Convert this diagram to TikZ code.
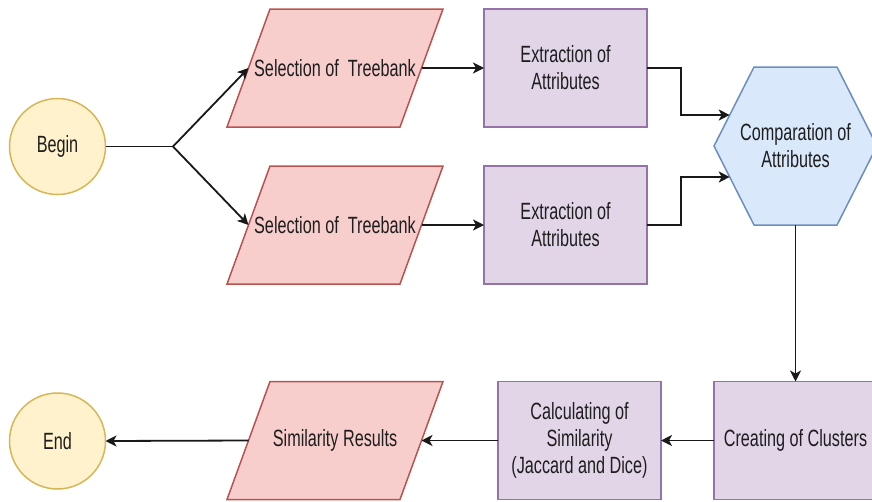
\documentclass[tikz,border=0pt]{standalone}
\usepackage{fontspec}
\setmainfont{Liberation Sans}[FakeStretch=0.69]
\usetikzlibrary{shapes.geometric,arrows.meta,calc}
\definecolor{yfill}{HTML}{FFF2CC}\definecolor{ydraw}{HTML}{D6B656}
\definecolor{rfill}{HTML}{F8CECC}\definecolor{rdraw}{HTML}{B85450}
\definecolor{pfill}{HTML}{E1D5E7}\definecolor{pdraw}{HTML}{9673A6}
\definecolor{bfill}{HTML}{DAE8FC}\definecolor{bdraw}{HTML}{6C8EBF}
\definecolor{txt}{HTML}{1E1E1E}
\tikzset{
  base/.style={font=\fontsize{23.5}{27}\selectfont, text=txt, align=center, line width=1.5pt, outer sep=0pt, inner sep=2pt},
  terminal/.style={base, circle, minimum size=96pt, fill=yfill, draw=ydraw},
  iobox/.style={base, rectangle, minimum width=216pt, minimum height=118pt},
  iofill/.style={fill=rfill, draw=rdraw, line width=1.5pt},
  proc/.style={base, rectangle, minimum width=163pt, minimum height=118pt, fill=pfill, draw=pdraw},
  hexbox/.style={base, rectangle, minimum width=163pt, minimum height=158pt},
  arr/.style={line width=1.8pt, draw=black!90, -{Stealth[length=11pt,width=11pt,inset=3pt]}},
  ln/.style={line width=1.8pt, draw=black!90},
}
\newcommand{\para}[1]{%
  \filldraw[iofill] (#1.south west) -- ($(#1.north west)+(43,0)$) -- (#1.north east) -- ($(#1.south east)+(-43,0)$) -- cycle;}
\begin{document}
\begin{tikzpicture}[x=1pt,y=-1pt]
\useasboundingbox (0,0) rectangle (872,501);
% parallelogram frames
\node[iobox] (sel1) at (335,68) {};
\node[iobox] (sel2) at (335,225) {};
\node[iobox] (res) at (335,440.5) {};
\para{sel1}\para{sel2}\para{res}
\node[base] (sel1t) at (sel1.center) {Selection of\ \ Treebank};
\node[base] (sel2t) at (sel2.center) {Selection of\ \ Treebank};
\node[base] (rest) at (res.center) {Similarity Results};
% other nodes
\node[terminal] (begin) at (57.5,146.5) {Begin};
\node[terminal] (end) at (57.5,441) {End};
\node[proc] (ext1) at (565.5,68) {Extraction of\\Attributes};
\node[proc] (ext2) at (565.5,225) {Extraction of\\Attributes};
\node[hexbox] (comp) at (795.5,146) {};
\filldraw[fill=bfill, draw=bdraw, line width=1.5pt] (comp.west) -- ($(comp.north west)+(40,0)$) -- ($(comp.north east)+(-40,0)$) -- (comp.east) -- ($(comp.south east)+(-40,0)$) -- ($(comp.south west)+(40,0)$) -- cycle;
\node[base] (compt) at (comp.center) {Comparation of\\Attributes};
\node[proc] (clus) at (795.5,440.5) {Creating of Clusters};
\node[proc] (calc) at (579.5,440.5) {Calculating of\\Similarity\\(Jaccard and Dice)};
% coordinates on slanted edges
\coordinate (fork) at (173,146.5);
\coordinate (sel1w) at ($(sel1.west)+(21.5,0)$);
\coordinate (sel1e) at ($(sel1.east)+(-21.5,0)$);
\coordinate (sel2w) at ($(sel2.west)+(21.5,0)$);
\coordinate (sel2e) at ($(sel2.east)+(-21.5,0)$);
\coordinate (resw) at ($(res.west)+(21.5,0)$);
\coordinate (rese) at ($(res.east)+(-21.5,0)$);
\coordinate (h1) at (729.7,115);
\coordinate (h2) at (729.7,177);
% connectors
\draw[ln] (begin.east) -- (fork);
\draw[arr] (fork) -- (sel1w);
\draw[arr] (fork) -- (sel2w);
\draw[arr] (sel1e) -- (ext1.west);
\draw[arr] (sel2e) -- (ext2.west);
\draw[arr] (ext1.east) -- ++(34,0) |- (h1);
\draw[arr] (ext2.east) -- ++(34,0) |- (h2);
\draw[arr] (comp.south) -- (clus.north);
\draw[arr] (clus.west) -- (calc.east);
\draw[arr] (calc.west) -- (rese);
\draw[arr] (resw) -- (end.east);
\end{tikzpicture}
\end{document}
